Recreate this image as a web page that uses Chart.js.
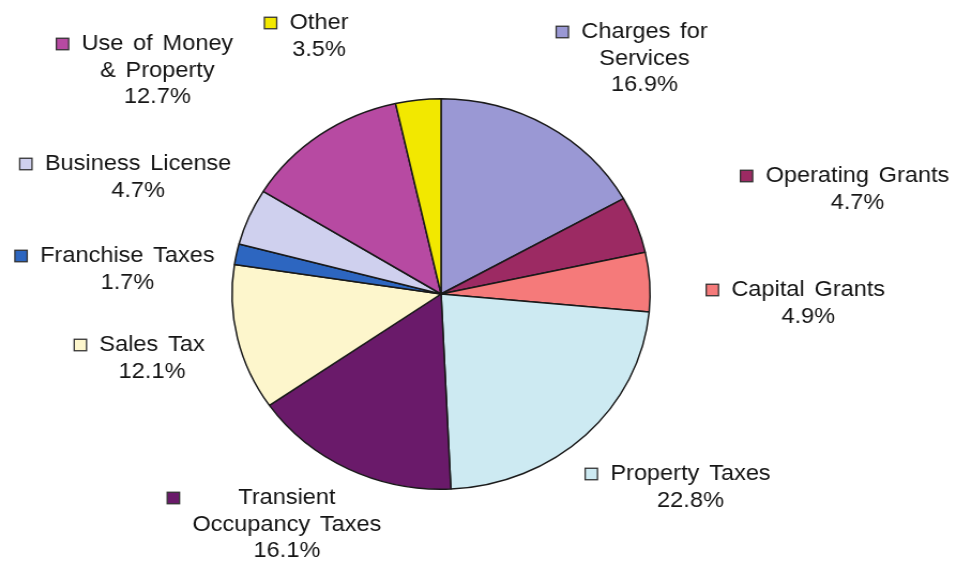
<!DOCTYPE html>
<html>
<head>
<meta charset="utf-8">
<script src="https://cdn.jsdelivr.net/npm/chart.js@4/dist/chart.umd.min.js"></script>
<style>
  html, body { margin: 0; padding: 0; background: #fff; overflow: hidden; }
  #wrap { width: 893px; height: 561px; transform: scaleX(1.0705); transform-origin: 0 0; }
</style>
</head>
<body>
<div id="wrap"><canvas id="revChart" width="893" height="561"></canvas></div>
<script>
// revenue sources, clockwise from 12 o'clock
const categories = [
    'Charges for\nServices', 'Operating Grants', 'Capital Grants', 'Property Taxes',
    'Transient\nOccupancy Taxes', 'Sales Tax', 'Franchise Taxes', 'Business License',
    'Use of Money\n& Property', 'Other'
];
const shares = [16.9, 4.7, 4.9, 22.8, 16.1, 12.1, 1.7, 4.7, 12.7, 3.5];
const sliceColors = [
    '#9a98d4', '#9c2a63', '#f57a7a', '#cdeaf2', '#6a1a6a',
    '#fdf6cc', '#2d66c0', '#cfd0ee', '#b74aa2', '#f2e800'
];

// where each label block sits, relative to the pie centre (x = text centre, y = first line)
const labelOffsets = [
    [190, -262], [389, -118], [343, -4], [233, 180], [-144, 204],
    [-270, 51], [-293, -38], [-283, -130], [-265, -250], [-114, -271]
];

const LINE_H = 26.5;

const labelPlugin = {
    id: 'sliceLabels',
    afterDatasetsDraw(chart) {
        const ctx = chart.ctx;
        const arcs = chart.getDatasetMeta(0).data;
        const cx = arcs[0].x, cy = arcs[0].y;
        ctx.save();
        ctx.font = '22px "Liberation Sans", Arial, sans-serif';
        ctx.wordSpacing = '3px';
        ctx.fillStyle = '#151515';
        ctx.textAlign = 'center';
        ctx.textBaseline = 'middle';
        categories.forEach((name, i) => {
            const lines = name.split('\n').concat(shares[i].toFixed(1) + '%');
            const x = cx + labelOffsets[i][0];
            const y = cy + labelOffsets[i][1];
            let widest = 0;
            lines.forEach((ln, j) => {
                widest = Math.max(widest, ctx.measureText(ln).width);
                ctx.fillText(ln, x, y + j * LINE_H);
            });
            // colour key in front of the block
            const size = 11.5;
            const kx = x - widest / 2 - 12 - size;
            ctx.fillStyle = sliceColors[i];
            ctx.fillRect(kx, y - size / 2, size, size);
            ctx.strokeStyle = '#333';
            ctx.lineWidth = 1.3;
            ctx.strokeRect(kx, y - size / 2, size, size);
            ctx.fillStyle = '#151515';
        });
        ctx.restore();
    }
};

new Chart(document.getElementById('revChart').getContext('2d'), {
    type: 'pie',
    data: {
        labels: categories,
        datasets: [{
            data: shares,
            backgroundColor: sliceColors,
            borderColor: '#1a1a1a',
            borderWidth: 1.5
        }]
    },
    options: {
        responsive: false,
        animation: false,
        layout: { padding: { top: 98, bottom: 71, left: 216, right: 285 } },
        plugins: { legend: { display: false }, tooltip: { enabled: false } }
    },
    plugins: [labelPlugin]
});
</script>
</body>
</html>
